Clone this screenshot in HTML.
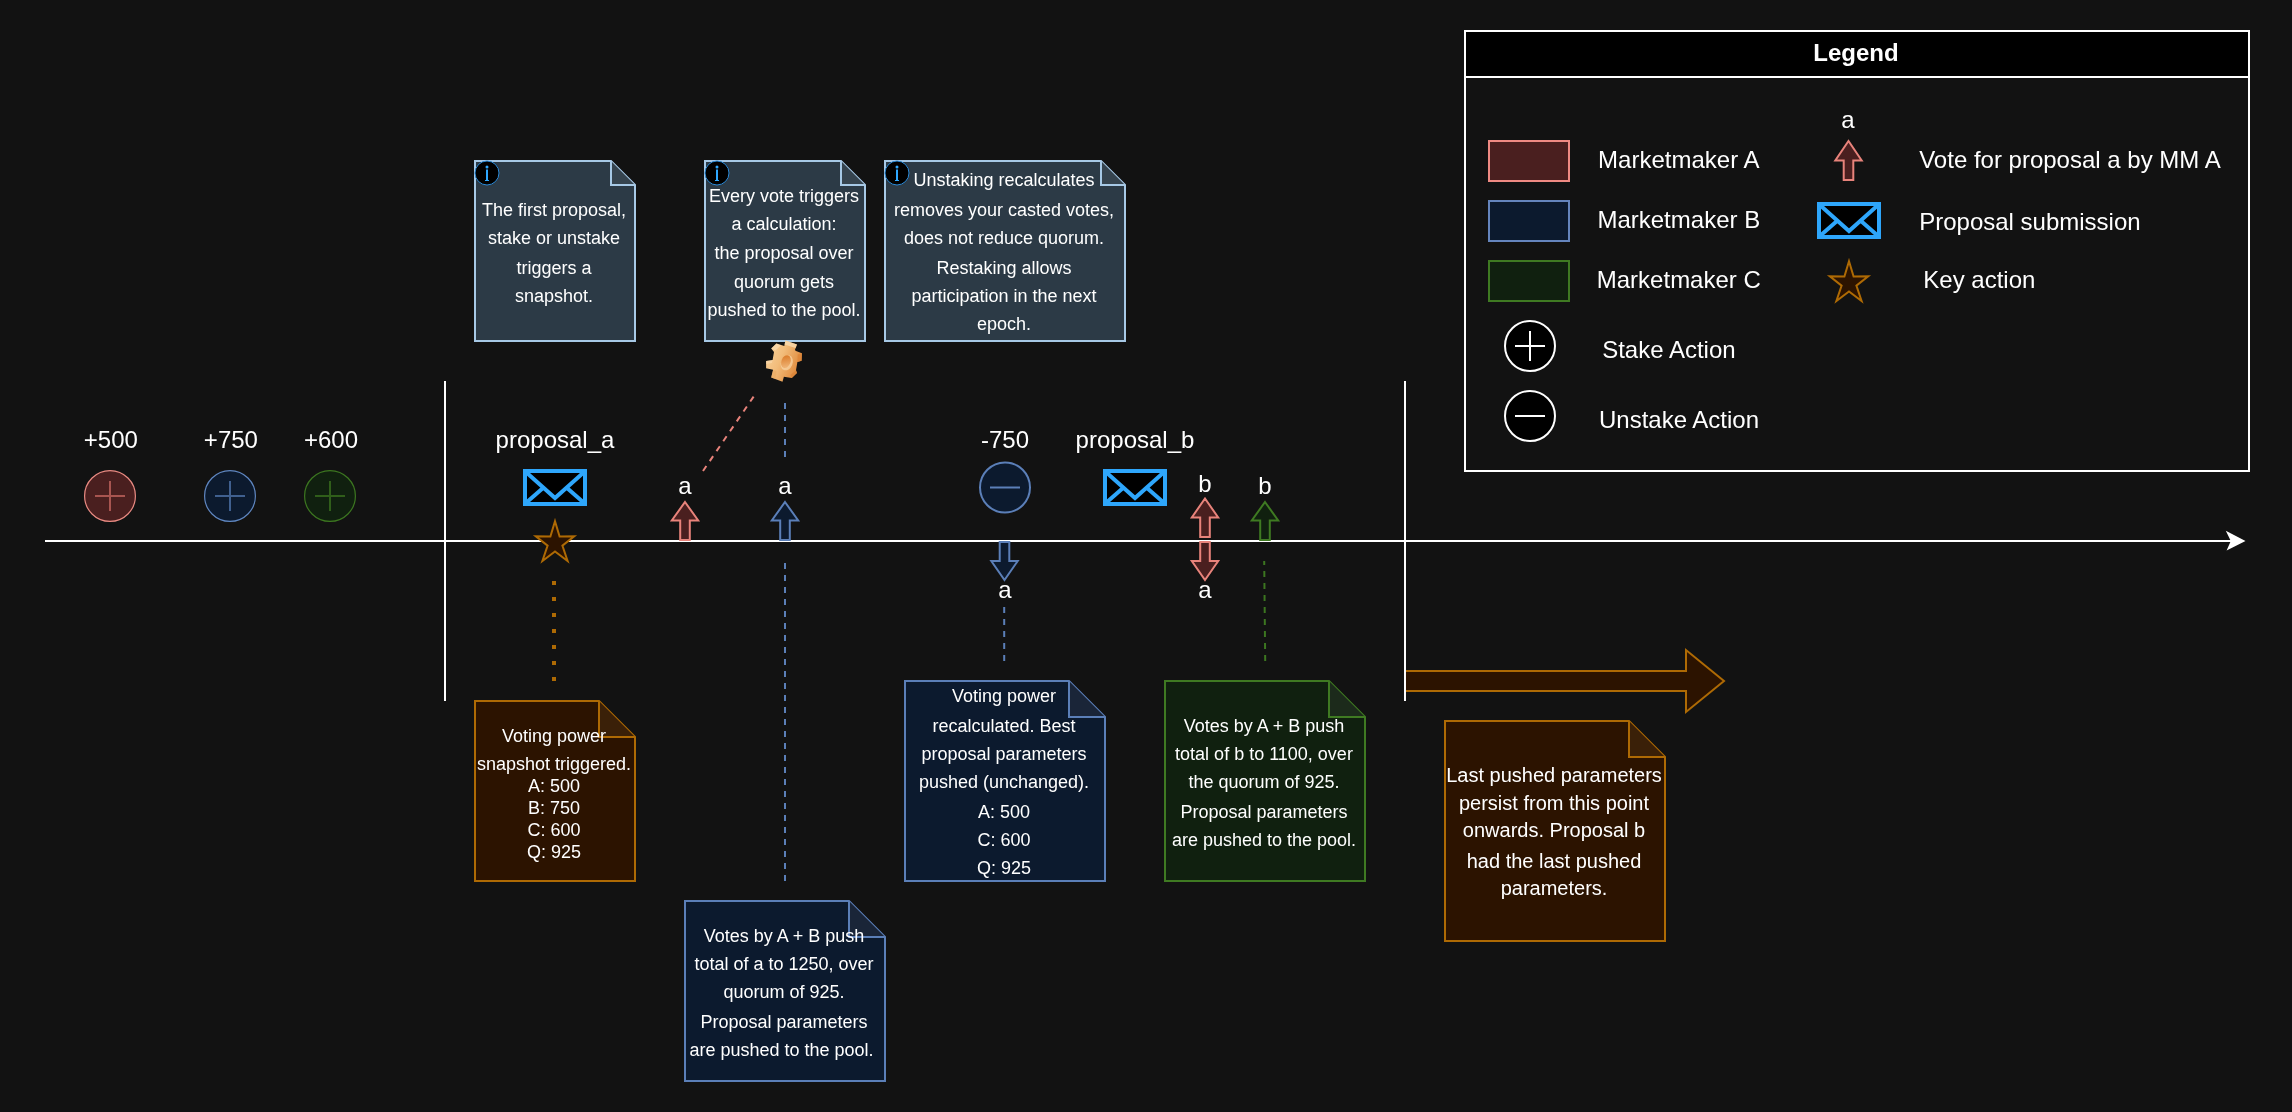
<!DOCTYPE html>
<html>
<head>
<meta charset="utf-8">
<style>
html,body{margin:0;padding:0;background:#121212;width:2292px;height:1112px;overflow:hidden;}
svg{display:block;will-change:transform;}
text{font-family:"Liberation Sans",sans-serif;fill:#ffffff;}
.t24{font-size:24px;}
.t18{font-size:18px;}
.t20{font-size:20px;}
.c{text-anchor:middle;}
</style>
</head>
<body>
<svg width="2292" height="1112" viewBox="0 0 2292 1112">
<rect x="0" y="0" width="2292" height="1112" fill="#121212"/>

<!-- timeline -->
<line x1="45" y1="541" x2="2232" y2="541" stroke="#fff" stroke-width="2"/>
<path d="M2245.5,541 L2225.8,530.8 L2230.8,541 L2226.6,550.4 Z" fill="#fff"/>
<line x1="445" y1="381" x2="445" y2="701" stroke="#fff" stroke-width="2"/>

<!-- stake circles -->
<g>
<circle cx="110" cy="496" r="25.4" fill="#4a1f1f" stroke="#e98a82" stroke-width="1.2"/>
<path d="M95,496 H125 M110,481 V511" stroke="#a85550" stroke-width="2"/>
<circle cx="230" cy="496" r="25.4" fill="#0c1a2e" stroke="#5f86c0" stroke-width="1.2"/>
<path d="M215,496 H245 M230,481 V511" stroke="#40608f" stroke-width="2"/>
<circle cx="330" cy="496" r="25.4" fill="#10200f" stroke="#3c7620" stroke-width="1.2"/>
<path d="M315,496 H345 M330,481 V511" stroke="#305e1a" stroke-width="2"/>
</g>
<text class="t24 c" x="110.8" y="448.4">+500</text>
<text class="t24 c" x="230.9" y="448.4">+750</text>
<text class="t24 c" x="331" y="448.4">+600</text>


<!-- separators dashed lines -->
<line x1="703" y1="471" x2="754" y2="396" stroke="#e8837b" stroke-width="2" stroke-dasharray="6 6"/>
<line x1="785" y1="403" x2="785" y2="463" stroke="#5b7fb8" stroke-width="2" stroke-dasharray="6 6"/>
<line x1="785" y1="563" x2="785" y2="881" stroke="#5b7fb8" stroke-width="2" stroke-dasharray="6 6"/>
<line x1="554" y1="581" x2="554" y2="685" stroke="#ae6a04" stroke-width="4" stroke-dasharray="4 12"/>
<line x1="1004.2" y1="607" x2="1004.2" y2="661" stroke="#5b7fb8" stroke-width="2" stroke-dasharray="6 6"/>
<line x1="1264.2" y1="561" x2="1265.2" y2="661" stroke="#3c7620" stroke-width="2" stroke-dasharray="6 6" stroke-dashoffset="2"/>

<!-- envelope a -->
<g id="env">
<rect x="525" y="471" width="60" height="33" fill="#000" stroke="#2ea6fb" stroke-width="4"/>
<path d="M527,473 L555,498 L583,473 M527,502 L543,488 M583,502 L567,488" fill="none" stroke="#2ea6fb" stroke-width="4"/>
</g>
<use href="#env" x="580" y="0"/>

<!-- star -->
<g id="star">
<path d="M555.00,521.30 L559.60,536.50 L574.20,536.30 L562.40,545.60 L567.60,561.00 L555.00,551.50 L542.40,561.00 L547.60,545.60 L535.80,536.30 L550.40,536.50 Z" fill="#2c1300" stroke="#ae6a04" stroke-width="2" stroke-linejoin="miter" stroke-miterlimit="10"/>
</g>

<!-- vote arrows -->
<path id="arR" d="M685,502 L698.2,520.5 L689.8,520.5 L689.8,540 L680.2,540 L680.2,520.5 L671.8,520.5 Z" fill="#4a1f1f" stroke="#e8837b" stroke-width="2" stroke-linejoin="miter"/>
<path d="M785,502 L798.2,520.5 L789.8,520.5 L789.8,540 L780.2,540 L780.2,520.5 L771.8,520.5 Z" fill="#0c1a2e" stroke="#5b7fb8" stroke-width="2"/>
<path d="M1205,498.5 L1218.2,517.5 L1209.8,517.5 L1209.8,537 L1200.2,537 L1200.2,517.5 L1191.8,517.5 Z" fill="#4a1f1f" stroke="#e8837b" stroke-width="2"/>
<path d="M1265,502 L1278.2,520.5 L1269.8,520.5 L1269.8,540 L1260.2,540 L1260.2,520.5 L1251.8,520.5 Z" fill="#10200f" stroke="#3f7a22" stroke-width="2"/>
<path d="M1004.5,580 L1017.7,561 L1009.3,561 L1009.3,542 L999.7,542 L999.7,561 L991.3,561 Z" fill="#0c1a2e" stroke="#5b7fb8" stroke-width="2"/>
<path d="M1205,580 L1218.2,561 L1209.8,561 L1209.8,542 L1200.2,542 L1200.2,561 L1191.8,561 Z" fill="#4a1f1f" stroke="#e8837b" stroke-width="2"/>

<!-- unstake circle -->
<circle cx="1005" cy="487.5" r="25" fill="#0c1a2e" stroke="#5b7fb8" stroke-width="2"/>
<path d="M990,487.5 H1020" stroke="#5b7fb8" stroke-width="2"/>

<text class="t24 c" x="555" y="448">proposal_a</text>
<text class="t24 c" x="1005" y="448">-750</text>
<text class="t24 c" x="1135" y="448">proposal_b</text>
<text class="t24 c" x="685" y="494">a</text>
<text class="t24 c" x="785" y="494">a</text>
<text class="t24 c" x="1205" y="492">b</text>
<text class="t24 c" x="1265" y="494">b</text>
<text class="t24 c" x="1005" y="598">a</text>
<text class="t24 c" x="1205" y="598">a</text>



<!-- info notes -->
<path d="M475,161 L611,161 L635,185 L635,341 L475,341 Z" fill="#2c3a46" stroke="#a7c9e6" stroke-width="2"/>
<path d="M611,161 L611,185 L635,185 Z" fill="#36444f"/><path d="M611,161 L611,185 L635,185" fill="none" stroke="#a7c9e6" stroke-width="2"/>
<circle cx="487" cy="173" r="12" fill="#000" stroke="#2a8ad8" stroke-width="1"/>
<circle cx="487" cy="167" r="1.5" fill="#2ea8ff"/>
<path d="M486,169.5 H488 V180 H489 V181 H485 V180 H486 Z" fill="#2ea8ff"/>
<text class="t18 c" x="554" y="216">The first proposal,</text>
<text class="t18 c" x="554" y="244">stake or unstake</text>
<text class="t18 c" x="554" y="274">triggers a</text>
<text class="t18 c" x="554" y="302">snapshot.</text>
<path d="M705,161 L841,161 L865,185 L865,341 L705,341 Z" fill="#2c3a46" stroke="#a7c9e6" stroke-width="2"/>
<path d="M841,161 L841,185 L865,185 Z" fill="#36444f"/><path d="M841,161 L841,185 L865,185" fill="none" stroke="#a7c9e6" stroke-width="2"/>
<circle cx="717" cy="173" r="12" fill="#000" stroke="#2a8ad8" stroke-width="1"/>
<circle cx="717" cy="167" r="1.5" fill="#2ea8ff"/>
<path d="M716,169.5 H718 V180 H719 V181 H715 V180 H716 Z" fill="#2ea8ff"/>
<text class="t18 c" x="784" y="202">Every vote triggers</text>
<text class="t18 c" x="784" y="230">a calculation:</text>
<text class="t18 c" x="784" y="258.5">the proposal over</text>
<text class="t18 c" x="784" y="288">quorum gets</text>
<text class="t18 c" x="784" y="315.5">pushed to the pool.</text>
<path d="M885,161 L1101,161 L1125,185 L1125,341 L885,341 Z" fill="#2c3a46" stroke="#a7c9e6" stroke-width="2"/>
<path d="M1101,161 L1101,185 L1125,185 Z" fill="#36444f"/><path d="M1101,161 L1101,185 L1125,185" fill="none" stroke="#a7c9e6" stroke-width="2"/>
<circle cx="897" cy="173" r="12" fill="#000" stroke="#2a8ad8" stroke-width="1"/>
<circle cx="897" cy="167" r="1.5" fill="#2ea8ff"/>
<path d="M896,169.5 H898 V180 H899 V181 H895 V180 H896 Z" fill="#2ea8ff"/>
<text class="t18 c" x="1004" y="186">Unstaking recalculates</text>
<text class="t18 c" x="1004" y="216">removes your casted votes,</text>
<text class="t18 c" x="1004" y="244">does not reduce quorum.</text>
<text class="t18 c" x="1004" y="274">Restaking allows</text>
<text class="t18 c" x="1004" y="302">participation in the next</text>
<text class="t18 c" x="1004" y="330">epoch.</text>
<!-- lower notes -->
<path d="M475,701 L599,701 L635,737 L635,881 L475,881 Z" fill="#2c1300" stroke="#ae6a04" stroke-width="2"/>
<path d="M599,701 L599,737 L635,737 Z" fill="#3a2008"/><path d="M599,701 L599,737 L635,737" fill="none" stroke="#ae6a04" stroke-width="2"/>
<text class="t18 c" x="554" y="741.7">Voting power</text>
<text class="t18 c" x="554" y="770">snapshot triggered.</text>
<text class="t18 c" x="554" y="792">A: 500</text>
<text class="t18 c" x="554" y="814">B: 750</text>
<text class="t18 c" x="554" y="836">C: 600</text>
<text class="t18 c" x="554" y="858">Q: 925</text>
<path d="M685,901 L849,901 L885,937 L885,1081 L685,1081 Z" fill="#0c1a2e" stroke="#5b7fb8" stroke-width="2"/>
<path d="M849,901 L849,937 L885,937 Z" fill="#1a2538"/><path d="M849,901 L849,937 L885,937" fill="none" stroke="#5b7fb8" stroke-width="2"/>
<text class="t18 c" x="784" y="942">Votes by A + B push</text>
<text class="t18 c" x="784" y="970">total of a to 1250, over</text>
<text class="t18 c" x="784" y="998">quorum of 925.</text>
<text class="t18 c" x="784" y="1028">Proposal parameters</text>
<text class="t18 c" x="781.5" y="1055.5">are pushed to the pool.</text>
<path d="M905,681 L1069,681 L1105,717 L1105,881 L905,881 Z" fill="#0c1a2e" stroke="#5b7fb8" stroke-width="2"/>
<path d="M1069,681 L1069,717 L1105,717 Z" fill="#1a2538"/><path d="M1069,681 L1069,717 L1105,717" fill="none" stroke="#5b7fb8" stroke-width="2"/>
<text class="t18 c" x="1004" y="702">Voting power</text>
<text class="t18 c" x="1004" y="732">recalculated. Best</text>
<text class="t18 c" x="1004" y="760">proposal parameters</text>
<text class="t18 c" x="1004" y="788">pushed (unchanged).</text>
<text class="t18 c" x="1004" y="818">A: 500</text>
<text class="t18 c" x="1004" y="846">C: 600</text>
<text class="t18 c" x="1004" y="874">Q: 925</text>
<path d="M1165,681 L1329,681 L1365,717 L1365,881 L1165,881 Z" fill="#10200f" stroke="#3f7a22" stroke-width="2"/>
<path d="M1329,681 L1329,717 L1365,717 Z" fill="#1c2a1b"/><path d="M1329,681 L1329,717 L1365,717" fill="none" stroke="#3f7a22" stroke-width="2"/>
<text class="t18 c" x="1264" y="732">Votes by A + B push</text>
<text class="t18 c" x="1264" y="760">total of b to 1100, over</text>
<text class="t18 c" x="1264" y="788">the quorum of 925.</text>
<text class="t18 c" x="1264" y="818">Proposal parameters</text>
<text class="t18 c" x="1264" y="846">are pushed to the pool.</text>
<path d="M1445,721 L1629,721 L1665,757 L1665,941 L1445,941 Z" fill="#2c1300" stroke="#ae6a04" stroke-width="2"/>
<path d="M1629,721 L1629,757 L1665,757 Z" fill="#3a2008"/><path d="M1629,721 L1629,757 L1665,757" fill="none" stroke="#ae6a04" stroke-width="2"/>
<text class="t20 c" x="1554" y="782.4">Last pushed parameters</text>
<text class="t20 c" x="1554" y="809.7">persist from this point</text>
<text class="t20 c" x="1554" y="837.4">onwards. Proposal b</text>
<text class="t20 c" x="1554" y="867.6">had the last pushed</text>
<text class="t20 c" x="1554" y="895.3">parameters.</text>
<!-- big arrow -->
<path d="M1405,671 L1686,671 L1686,650 L1724,681 L1686,712 L1686,691 L1405,691 Z" fill="#2c1300" stroke="#ae6a04" stroke-width="2"/>
<line x1="1405" y1="381" x2="1405" y2="701" stroke="#fff" stroke-width="2"/>
<!-- legend -->
<rect x="1465" y="31" width="784" height="440" fill="#121212" stroke="#fff" stroke-width="2"/>
<rect x="1465" y="31" width="784" height="46" fill="#000" stroke="#fff" stroke-width="2"/>
<text class="t24 c" x="1856" y="61.4" style="font-weight:bold">Legend</text>
<rect x="1489" y="141" width="80" height="40" fill="#4a1f1f" stroke="#ef8a83" stroke-width="2"/>
<rect x="1489" y="201" width="80" height="40" fill="#0c1a2e" stroke="#6585bd" stroke-width="2"/>
<rect x="1489" y="261" width="80" height="40" fill="#10200f" stroke="#3f7a22" stroke-width="2"/>
<text class="t24 c" x="1678.8" y="167.7">Marketmaker A</text>
<text class="t24 c" x="1678.8" y="227.7">Marketmaker B</text>
<text class="t24 c" x="1678.8" y="287.7">Marketmaker C</text>
<circle cx="1530" cy="346" r="25" fill="#000" stroke="#fff" stroke-width="2"/>
<path d="M1515,346 H1545 M1530,331 V361" stroke="#fff" stroke-width="2"/>
<circle cx="1530" cy="416" r="25" fill="#000" stroke="#fff" stroke-width="2"/>
<path d="M1515,416 H1545" stroke="#fff" stroke-width="2"/>
<text class="t24 c" x="1668.9" y="358">Stake Action</text>
<text class="t24 c" x="1679" y="428.4">Unstake Action</text>
<text class="t24 c" x="1848" y="128.3">a</text>
<path d="M1848.5,141 L1861.7,160.5 L1853.3,160.5 L1853.3,180 L1843.7,180 L1843.7,160.5 L1835.3,160.5 Z" fill="#4a1f1f" stroke="#e8837b" stroke-width="2"/>
<text class="t24" x="1919.2" y="167.7">Vote for proposal a by MM A</text>
<use href="#env" x="1294" y="-267"/>
<text class="t24" x="1919.2" y="229.8">Proposal submission</text>
<use href="#star" x="1294" y="-260"/>
<text class="t24" x="1923.3" y="288.1">Key action</text>

<!-- gear -->
<defs>
<linearGradient id="gg" x1="0" y1="0" x2="1" y2="0.5">
<stop offset="0" stop-color="#f8d4a0"/>
<stop offset="0.5" stop-color="#f2bc7a"/>
<stop offset="1" stop-color="#df8a3c"/>
</linearGradient>
<linearGradient id="gh" x1="0" y1="0" x2="0.4" y2="1">
<stop offset="0" stop-color="#d8741f"/>
<stop offset="1" stop-color="#eeb070"/>
</linearGradient>
</defs>
<path d="M785.5,340.4 L797,344.4 L794.9,350 L796,351 L801.9,353.3 L801.6,360.8 L797.4,362 L796,370.2 L797,373 L791.8,378.1 L783.9,376.7 L782.5,381.8 L771.2,377.6 L773.1,369.7 L766.1,368.3 L766.1,361 L772.6,359.9 L774,351.9 L771.2,348.4 L776.4,343.5 L784.3,346 Z" fill="url(#gg)"/>
<path d="M785.5,340.4 L797,344.4 L795.5,348 L784.5,344.5 Z" fill="#fbe0b8" opacity="0.7"/>
<path d="M771.2,348.4 L776.4,343.5 L781,345.2 L775.5,350.5 Z" fill="#fbe0b8" opacity="0.6"/>
<path d="M766.1,361 L772.6,359.9 L772,363 L766.1,364 Z" fill="#fbe0b8" opacity="0.5"/>
<path d="M797.7,354.5 L801.9,353.3 L801.6,360.8 L797.4,362 Z" fill="#dc8538" opacity="0.8"/>
<path d="M791.8,378.1 L797,373 L796,370.2 L790.5,375 Z" fill="#d98236" opacity="0.7"/>
<path d="M773.1,369.7 L776.5,371 L775.5,379 L771.2,377.6 Z" fill="#e9a860" opacity="0.6"/>
<ellipse cx="786.8" cy="362.8" rx="5.8" ry="7.8" transform="rotate(22 786.8 362.8)" fill="#f9d7a8" opacity="0.7"/>
<ellipse cx="785.9" cy="361.6" rx="4.6" ry="6.6" transform="rotate(22 785.9 361.6)" fill="url(#gh)"/>
</svg>
</body>
</html>
